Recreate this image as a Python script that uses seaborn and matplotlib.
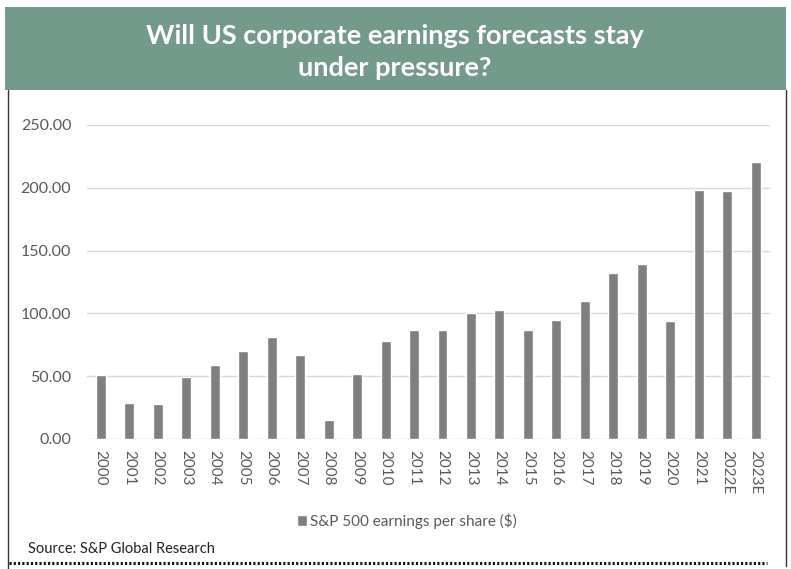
import matplotlib
matplotlib.use("Agg")
import matplotlib.pyplot as plt
import seaborn as sns
import pandas as pd
from matplotlib.patches import Rectangle
from matplotlib.lines import Line2D

years = ["2000", "2001", "2002", "2003", "2004", "2005", "2006", "2007",
         "2008", "2009", "2010", "2011", "2012", "2013", "2014", "2015",
         "2016", "2017", "2018", "2019", "2020", "2021", "2022E", "2023E"]
eps = [50.7, 28.4, 28.1, 49.4, 58.9, 70.3, 81.5, 66.6,
       15.4, 51.7, 78.3, 87.0, 87.0, 100.0, 102.4, 87.0,
       95.0, 110.1, 132.4, 139.6, 94.2, 198.2, 197.2, 220.5]
yticks = [0, 50, 100, 150, 200, 250]
series_name = "S&P 500 earnings per share ($)"
title = "Will US corporate earnings forecasts stay\nunder pressure?"
source = "Source: S&P Global Research"

sns.set_theme(style="white")
plt.rcParams["font.family"] = ["Lato", "DejaVu Sans"]

W, H = 791, 569
fig = plt.figure(figsize=(W / 100, H / 100), dpi=100)
fig.patch.set_facecolor("white")

# plot area in pixel terms
left, right, top, bottom = 86.5, 770, 125, 439
ax = fig.add_axes([left / W, 1 - bottom / H, (right - left) / W, (bottom - top) / H])

df = pd.DataFrame({"year": years, "eps": eps, "series": series_name})
sns.barplot(data=df, x="year", y="eps", hue="series", palette=["#7f7f7f"],
            width=0.35, saturation=1, ax=ax)

ax.set_xlim(-0.5, len(years) - 0.5)
ax.set_ylim(0, 250)
ax.set_yticks(yticks)
ax.set_yticklabels([f"{v:.2f}" for v in yticks])
ax.set_xlabel("")
ax.set_ylabel("")
ax.yaxis.grid(True, color="#d9d9d9", lw=1)
ax.set_axisbelow(True)
for s in ax.spines.values():
    s.set_visible(False)
ax.tick_params(axis="both", length=0, colors="#595959")
ax.tick_params(axis="y", labelsize=11.5, pad=11)
ax.tick_params(axis="x", labelsize=11, pad=8)
for lab in ax.get_xticklabels():
    lab.set_rotation(-90)
    lab.set_va("top")
    lab.set_ha("center")

# legend beneath the axis labels
handles, labels = ax.get_legend_handles_labels()
ax.legend(handles, labels, loc="center", bbox_to_anchor=(407 / W, 1 - 521 / H),
          bbox_transform=fig.transFigure, frameon=False, fontsize=11,
          handlelength=0.7, handleheight=0.7, handletextpad=0.2,
          labelcolor="#595959")

# header band with title
fig.patches.append(Rectangle((5 / W, 1 - 90 / H), 781 / W, 83 / H,
                             transform=fig.transFigure, facecolor="#739a8a",
                             edgecolor="none", zorder=0))
fig.text(395 / W, 1 - 52 / H, title, color="white", fontsize=19.5,
         fontweight="bold", ha="center", va="center", linespacing=1.38)

# frame sides and dotted footer rule
fig.lines.append(Line2D([8 / W, 8 / W], [1 - 90 / H, 0],
                        transform=fig.transFigure, color="#333333", lw=1))
fig.lines.append(Line2D([786 / W, 786 / W], [1 - 90 / H, 1 - 566 / H],
                        transform=fig.transFigure, color="#333333", lw=1))
fig.lines.append(Line2D([9 / W, 767 / W], [1 - 563 / H, 1 - 563 / H],
                        transform=fig.transFigure, color="#111111", lw=2.2,
                        linestyle=(0, (0.7, 0.7))))

fig.text(28 / W, 1 - 549 / H, source, color="#222222", fontsize=10.5,
         ha="left", va="center")

fig.savefig("out.png", dpi=100)
